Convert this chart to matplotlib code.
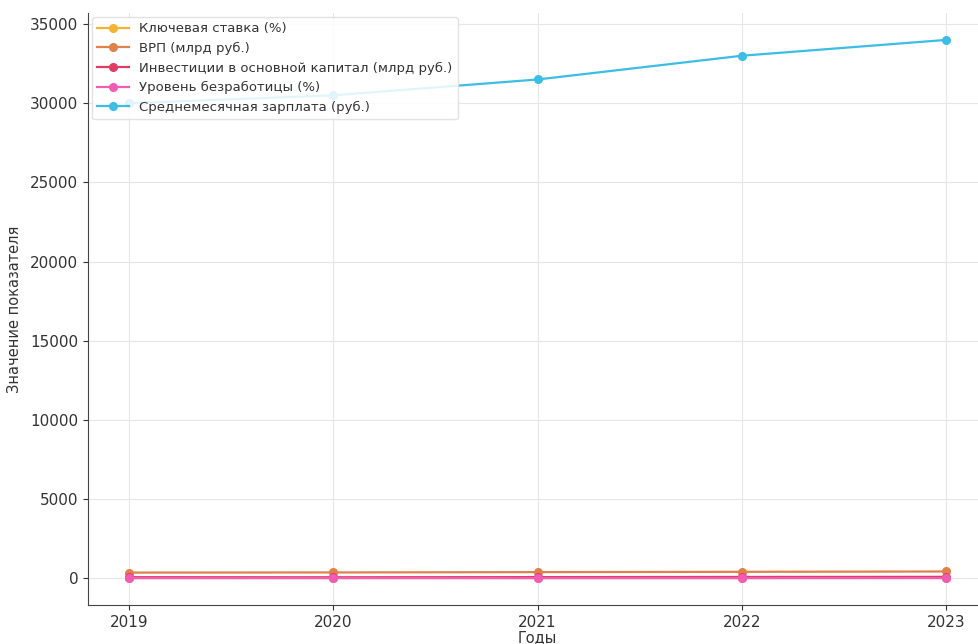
import matplotlib.pyplot as plt

# Data
years = [2019, 2020, 2021, 2022, 2023]
key_rate = [7.5, 5.5, 6.5, 7.5, 16.0]
vrp = [350, 360, 380, 400, 420]
investments = [60, 55, 65, 75, 80]
unemployment = [4.6, 5.8, 4.8, 3.9, 3.2]
salary = [30000, 30500, 31500, 33000, 34000]

labels = [
    'Ключевая ставка (%)',
    'ВРП (млрд руб.)',
    'Инвестиции в основной капитал (млрд руб.)',
    'Уровень безработицы (%)',
    'Среднемесячная зарплата (руб.)',
]
colors = ['#f5b335', '#e0804a', '#e03c62', '#f25cb4', '#3cbde6']
series = [key_rate, vrp, investments, unemployment, salary]

fig = plt.figure(figsize=(9.79, 6.44), dpi=100)
ax = fig.add_axes([88 / 979, 39 / 644, (987 - 88) / 979, (605 - 13) / 644])

for vals, lab, col in zip(series, labels, colors):
    ax.plot(years, vals, marker='o', markersize=5.5, linewidth=1.6, color=col, label=lab)

ax.set_xticks(years)
ax.set_xlabel('Годы', fontsize=10.5, color='#333333', labelpad=0)
ax.set_ylabel('Значение показателя', fontsize=10.5, color='#333333', labelpad=6)
ax.tick_params(labelsize=11, colors='#333333')
ax.grid(True, color='#e6e6e6', linewidth=0.8)
ax.set_axisbelow(True)
for s in ['top', 'right']:
    ax.spines[s].set_visible(False)
ax.spines['left'].set_color('#444444')
ax.spines['bottom'].set_color('#444444')

leg = ax.legend(loc='upper left', fontsize=9.5, frameon=True, framealpha=0.85,
                edgecolor='#dddddd', borderaxespad=0.3, handlelength=2.4)
for t in leg.get_texts():
    t.set_color('#333333')

plt.savefig('out.png', dpi=100)
